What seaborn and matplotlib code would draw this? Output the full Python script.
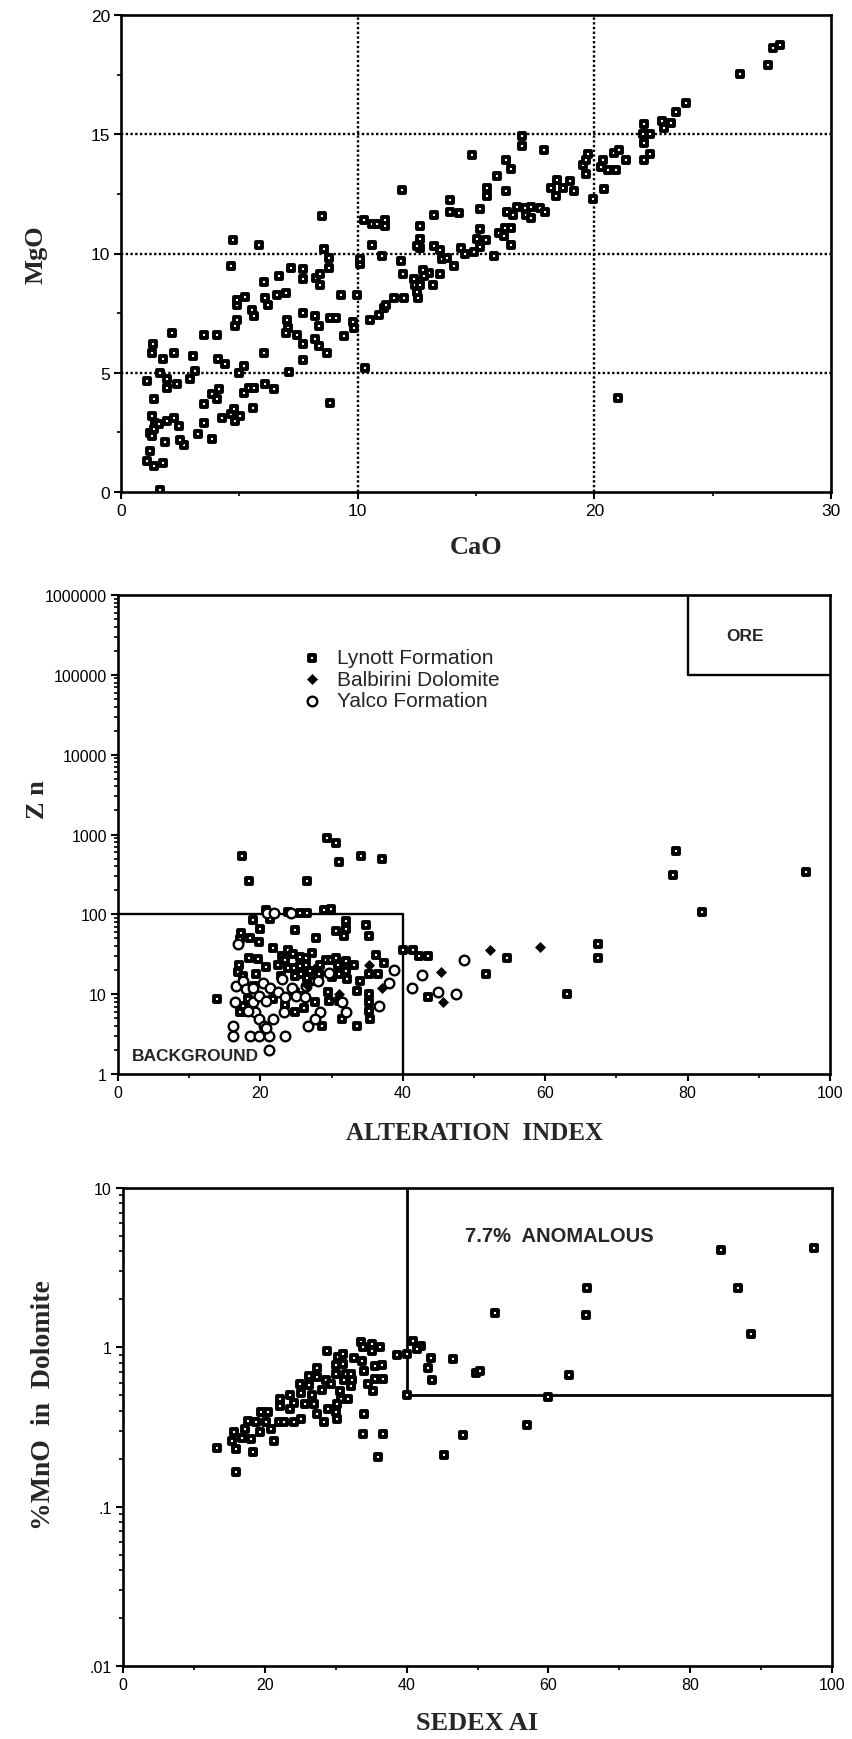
import numpy as np
import pandas as pd
import matplotlib
matplotlib.use("Agg")
import matplotlib.pyplot as plt
import seaborn as sns
from matplotlib.ticker import MultipleLocator, LogLocator, FixedLocator, FixedFormatter, NullFormatter

sns.set_theme(style="ticks")
plt.rcParams["font.family"] = ["Liberation Sans", "DejaVu Sans"]

# ---------------- Panel 1: CaO vs MgO (wt %) ----------------
cao = [1.63, 1.1, 1.24, 1.38, 1.77, 1.87, 2.65, 2.48, 1.24, 1.3, 1.38, 1.45, 1.3, 1.6, 1.94, 2.25, 2.44,
       1.38, 1.1, 1.66, 1.77, 1.3, 1.35, 2.15, 2.23, 1.94, 1.94, 2.37, 2.93, 3.04, 3.14, 3.24, 3.52, 3.52,
       3.86, 3.52, 4.06, 3.85, 4.06, 4.13, 4.08, 4.41, 4.27, 4.65, 4.79, 4.83, 5.04, 4.97, 5.21, 5.21, 5.39,
       5.63, 5.58, 6.1, 6.45, 6.03, 4.65, 4.73, 4.83, 4.9, 4.9, 4.9, 5.23, 5.54, 5.63, 5.82, 6.03, 6.1, 6.21,
       6.59, 6.69, 6.99, 7.18, 7.69, 7.69, 7.01, 7.04, 6.99, 7.44, 7.69, 7.68, 7.69, 7.08, 8.21, 8.35, 8.21,
       8.35, 8.70, 8.85, 8.25, 8.42, 8.42, 8.77, 8.77, 8.56, 8.49, 8.82, 9.1, 9.3, 9.44, 9.8, 9.83, 9.97,
       10.11, 10.11, 10.32, 10.25, 10.6, 10.82, 11.17, 11.17, 10.6, 11.03, 10.54, 10.89, 11.1, 11.21, 11.52,
       11.97, 11.87, 11.83, 11.92, 12.37, 12.44, 12.62, 12.54, 12.51, 12.65, 12.65, 12.65, 12.51, 12.76, 13.0,
       12.82, 13.18, 13.21, 13.46, 13.21, 13.46, 13.56, 13.77, 13.89, 13.89, 14.3, 14.08, 14.35, 14.55, 14.83,
       14.9, 15.15, 15.04, 15.18, 15.15, 15.44, 15.46, 15.46, 15.75, 15.89, 15.96,
       16.28, 16.46, 16.28, 16.94, 16.94, 17.87, 16.33, 16.56, 16.75, 17.08, 17.31, 17.12, 17.34, 17.69,
       17.92, 16.21, 16.49, 16.18, 16.46, 18.18, 18.43, 18.39, 18.67, 18.99, 19.16, 19.51, 19.65, 19.75,
       19.65, 19.93, 20.35, 20.28, 20.56, 20.91, 20.81, 21.05, 21.33, 20.39, 21.01, 22.1, 22.07, 22.36,
       22.1, 22.1, 22.36, 22.88, 22.95, 23.23, 23.44, 23.86, 26.14, 27.32, 27.55, 27.83]
mgo = [0.08, 1.3, 1.72, 1.09, 1.23, 2.1, 1.96, 2.2, 2.49, 2.35, 2.63, 2.9, 3.18, 2.84, 2.97, 3.11, 2.77,
       3.88, 4.65, 5.0, 5.56, 5.84, 6.19, 6.68, 5.84, 4.72, 4.37, 4.51, 4.72, 5.7, 5.07, 2.42, 2.9, 3.67,
       2.23, 6.6, 6.6, 4.09, 3.88, 4.3, 5.56, 5.35, 3.11, 3.25, 3.46, 2.97, 3.18, 5.0, 5.28, 4.16, 4.37,
       4.37, 3.53, 4.51, 4.3, 5.81, 9.47, 10.56, 6.96, 7.23, 7.86, 8.07, 8.17, 7.65, 7.4, 10.34, 8.8, 8.14, 7.86,
       8.24, 9.05, 8.35, 9.4, 9.33, 8.91, 7.21, 6.89, 6.68, 6.6, 6.19, 7.51, 5.53, 5.03, 7.37, 6.98, 6.42,
       6.12, 5.84, 3.72, 8.98, 8.7, 9.12, 9.4, 9.82, 10.17, 11.59, 7.3, 7.3, 8.24, 6.56, 7.12, 6.89, 8.28,
       9.54, 9.75, 5.21, 11.4, 11.22, 11.22, 11.42, 11.15, 10.34, 9.89, 7.23, 7.44, 7.72, 7.86, 8.14,
       8.14, 12.68, 9.68, 9.12, 8.91, 8.7, 8.66, 8.14, 8.38, 11.15, 10.61, 10.24, 10.31, 9.3, 9.19,
       9.05, 8.66, 11.63, 9.16, 10.31, 10.14, 9.75, 9.82, 12.23, 11.73, 11.68, 9.47, 10.24, 9.96, 14.15,
       10.06, 10.28, 10.59, 11.87, 11.03, 10.56, 12.75, 12.4, 9.89, 13.24, 10.87,
       13.9, 13.56, 12.6, 14.93, 14.51, 14.32, 11.76, 11.62, 11.97, 11.9, 11.97, 11.62, 11.48, 11.9,
       11.76, 11.06, 11.08, 10.75, 10.35, 12.75, 13.1, 12.39, 12.75, 13.03, 12.6, 13.73, 13.94, 14.18,
       13.34, 12.3, 13.9, 13.62, 13.52, 13.52, 14.23, 14.32, 13.94, 12.72, 3.94, 15.42, 15.0, 15.0,
       14.65, 13.9, 14.18, 15.56, 15.28, 15.49, 15.92, 16.3, 17.51, 17.89, 18.63, 18.73]

# ---------------- Panel 2: alteration index vs Zn (ppm) ----------------
lynott_ai = [17.45, 18.4, 29.3, 30.6, 31.1, 34.1, 37.1, 26.6, 78.4, 78.0, 82.0, 96.6, 67.4, 67.4, 63.0,
             54.6, 51.7, 43.5,
             13.9, 17.3, 17.2, 18.5, 19.8, 20.0, 19.0, 20.8, 21.4, 21.7, 24.8, 23.9, 25.5, 26.5, 29.0, 29.9,
             27.8, 30.6, 32.0, 32.0, 31.7, 34.8, 35.2, 40.0, 41.4, 42.3, 43.5, 36.3, 37.4, 36.5, 35.2, 34.0,
             33.5, 33.2, 32.0, 32.0, 32.1, 35.2, 35.2, 35.2, 35.4, 33.5, 31.4, 28.7, 29.7, 31.1, 27.6, 26.1,
             24.8, 23.4, 21.8, 17.1, 18.0, 16.8, 17.0, 18.4, 19.7, 20.8, 19.4, 22.5, 23.1, 23.9, 24.6, 23.5,
             23.9, 24.7, 25.5, 26.4, 27.0, 28.1, 28.4, 29.2, 29.9, 30.6, 30.9, 27.3, 25.5, 26.4, 24.8, 25.7,
             26.5, 27.4, 28.3, 30.0, 31.1, 22.9, 29.5, 26.0, 24.8, 17.5, 19.1, 17.5, 18.2]
lynott_zn = [532, 259, 917, 777, 446, 543, 490, 259, 620, 308, 108, 335, 42, 28, 10,
             28, 18, 9.1,
             8.8, 58, 49, 51, 45, 66, 84, 113, 88, 38, 63, 107, 103, 103, 113, 118,
             51, 62, 83, 65, 53, 73, 54, 36, 36, 30, 30, 31, 24.5, 17.8, 17.8, 14.7,
             11, 23, 26, 19.6, 15.4, 10, 8, 6.2, 4.9, 4.0, 4.9, 4.0, 8.2, 8.2, 8, 6.8,
             6.0, 7.3, 8.6, 5.9, 5.9, 19, 23, 28, 27.5, 21.6, 17.8, 23, 30, 36, 32, 27,
             21.5, 21.5, 22.6, 23, 19.6, 20.6, 23, 27, 27, 28, 23, 33, 29, 28, 17, 17.8,
             16, 14.7, 17.8, 16.6, 17.8, 17, 10.5, 9.5, 10.5, 17, 12.7, 7.1, 8.6]

balbirini_ai = [35.2, 37.1, 45.3, 45.6, 31.0, 52.2, 59.2, 26.5]
balbirini_zn = [23, 12, 19, 8, 10, 35.5, 38.5, 13]

yalco_ai = [16.8, 20.9, 21.9, 24.3, 16.1, 16.1, 18.5, 19.8, 21.2, 23.5, 21.2, 16.6, 16.4, 17.5, 18.0,
            19.0, 20.3, 21.3, 18.9, 19.8, 20.8, 19.3, 18.2, 19.8, 20.5, 21.8, 20.8, 23.3, 23.1, 24.5,
            22.5, 23.5, 25.0, 26.3, 26.4, 28.1, 29.7, 28.4, 27.6, 26.7, 31.5, 32.0, 36.6, 38.1, 38.8,
            41.3, 42.7, 44.9, 47.5, 48.6]
yalco_zn = [42, 103, 105, 103, 4.0, 3.0, 3.0, 3.0, 3.0, 3.0, 2.0, 12.7, 8, 14.7, 11.5,
            11.9, 14, 12, 8, 9.5, 8.3, 5.9, 6.2, 4.9, 4.0, 4.9, 3.8, 5.9, 15.4, 12,
            10.5, 9.1, 9.5, 9.3, 12.7, 14.7, 18.6, 5.9, 4.9, 4.0, 8, 5.9, 7.1, 14, 20,
            12, 17.3, 10.7, 10.1, 27]

# ---------------- Panel 3: SEDEX alteration index vs %MnO in dolomite ----------------
sedex_ai = [13.3, 15.97, 18.4, 21.3, 15.4, 15.6, 16.8, 18.0, 17.2, 19.3, 20.9, 17.7, 18.8, 20.2, 19.4,
            20.4, 22.0, 22.7, 24.1, 25.1, 22.2, 23.6, 22.2, 23.6, 25.1, 24.1, 25.7, 26.9, 25.0, 26.3,
            26.2, 27.4, 27.3, 26.6, 28.1, 27.4, 28.3, 28.9, 30.2, 30.1, 28.7, 29.4, 30.0, 30.1, 30.3,
            31.1, 31.0, 31.4, 32.2, 31.2, 32.3, 32.2, 30.6, 30.7, 31.8, 30.2, 28.8, 32.6, 33.7, 33.5,
            33.8, 35.1, 35.1, 36.2, 34.0, 35.5, 36.5, 34.5, 35.5, 36.7, 35.3, 34.0, 33.8, 36.7, 35.9,
            38.7, 40.1, 40.9, 42.0, 41.4, 43.5, 43.0, 43.6, 46.6, 49.8, 50.3, 40.0, 48.0, 45.3, 52.4,
            16.0, 57.0, 60.0, 62.9, 65.3, 65.5, 84.4, 86.8, 88.6, 97.5]
mno = [0.232, 0.23, 0.22, 0.257, 0.26, 0.295, 0.27, 0.265, 0.307, 0.295, 0.307, 0.346, 0.338, 0.34, 0.39,
       0.39, 0.34, 0.34, 0.338, 0.355, 0.43, 0.41, 0.473, 0.50, 0.52, 0.45, 0.44, 0.44, 0.59, 0.58,
       0.66, 0.65, 0.74, 0.50, 0.54, 0.38, 0.34, 0.41, 0.355, 0.39, 0.62, 0.59, 0.68, 0.77, 0.865,
       0.91, 0.79, 0.68, 0.68, 0.62, 0.62, 0.57, 0.53, 0.475, 0.475, 0.44, 0.95, 0.86, 0.82, 1.08,
       1.0, 1.05, 0.95, 1.0, 0.71, 0.76, 0.77, 0.59, 0.63, 0.63, 0.53, 0.38, 0.286, 0.286, 0.204,
       0.90, 0.91, 1.1, 1.02, 0.97, 0.86, 0.74, 0.62, 0.85, 0.69, 0.71, 0.50, 0.28, 0.21, 1.64,
       0.166, 0.325, 0.49, 0.67, 1.6, 2.36, 4.1, 2.36, 1.21, 4.2]

# field boundaries drawn on the discrimination plots
BACKGROUND_AI, BACKGROUND_ZN = 40, 100
ORE_AI, ORE_ZN = 80, 1e5
ANOM_AI, ANOM_MNO = 40, 0.5

df_top = pd.DataFrame({"CaO": cao, "MgO": mgo})
df_mid = pd.concat([
    pd.DataFrame({"AI": lynott_ai, "Zn": lynott_zn, "unit": "Lynott Formation"}),
    pd.DataFrame({"AI": balbirini_ai, "Zn": balbirini_zn, "unit": "Balbirini Dolomite"}),
    pd.DataFrame({"AI": yalco_ai, "Zn": yalco_zn, "unit": "Yalco Formation"}),
], ignore_index=True)
df_bot = pd.DataFrame({"AI": sedex_ai, "MnO": mno})

W, H = 852, 1740
fig = plt.figure(figsize=(W / 100, H / 100), dpi=100)
fig.patch.set_facecolor("white")


def frame(l, t, r, b):
    return [l / W, 1 - b / H, (r - l) / W, (b - t) / H]


ax1 = fig.add_axes(frame(121, 16, 831, 493))
ax2 = fig.add_axes(frame(118, 596, 830, 1075))
ax3 = fig.add_axes(frame(123, 1189, 832, 1667))

SQUARE = dict(marker="s", s=19, color="white", edgecolor="black", linewidth=2.8, zorder=3)
SERIF = dict(fontfamily=["Liberation Serif", "DejaVu Serif"], fontweight="bold")


def style(ax, labelsize=11):
    ax.set_facecolor("white")
    for sp in ax.spines.values():
        sp.set_linewidth(1.9)
        sp.set_color("black")
        sp.set_visible(True)
    ax.tick_params(which="major", direction="out", length=5, width=1.5, colors="black",
                   labelsize=labelsize, pad=3, left=True, bottom=True)
    ax.tick_params(which="minor", direction="out", length=3, width=1.2, colors="black",
                   left=True, bottom=True)
    ax.grid(False)


# ---- panel 1
sns.scatterplot(data=df_top, x="CaO", y="MgO", ax=ax1, legend=False, **SQUARE)
ax1.set_xlim(0, 30)
ax1.set_ylim(0, 20)
ax1.xaxis.set_major_locator(MultipleLocator(10))
ax1.xaxis.set_minor_locator(MultipleLocator(5))
ax1.yaxis.set_major_locator(MultipleLocator(5))
ax1.yaxis.set_minor_locator(MultipleLocator(2.5))
for v in (10, 20):
    ax1.axvline(v, color="black", lw=1.7, ls=(0, (1, 1)), zorder=1)
for v in (5, 10, 15):
    ax1.axhline(v, color="black", lw=1.7, ls=(0, (1, 1)), zorder=1)
style(ax1, 12.5)
ax1.set_xlabel("CaO", fontsize=19, va="center", **SERIF)
ax1.set_ylabel("MgO", fontsize=19, va="center", **SERIF)
ax1.xaxis.set_label_coords(0.5, (493 - 547) / 477)
ax1.yaxis.set_label_coords((36 - 121) / 710, 0.5)

# ---- panel 2
sns.scatterplot(data=df_mid[df_mid.unit == "Lynott Formation"], x="AI", y="Zn", ax=ax2,
                label="Lynott Formation", **SQUARE)
sns.scatterplot(data=df_mid[df_mid.unit == "Balbirini Dolomite"], x="AI", y="Zn", ax=ax2,
                label="Balbirini Dolomite", marker="D", s=26, color="black", edgecolor="black",
                linewidth=0.5, zorder=4)
sns.scatterplot(data=df_mid[df_mid.unit == "Yalco Formation"], x="AI", y="Zn", ax=ax2,
                label="Yalco Formation", marker="o", s=48, color="white", edgecolor="black",
                linewidth=1.7, zorder=3)
ax2.set_yscale("log")
ax2.set_xlim(0, 100)
ax2.set_ylim(1, 1e6)
ax2.xaxis.set_major_locator(MultipleLocator(20))
ax2.xaxis.set_minor_locator(MultipleLocator(10))
zn_ticks = [1, 10, 100, 1000, 10000, 100000, 1000000]
ax2.yaxis.set_major_locator(FixedLocator(zn_ticks))
ax2.yaxis.set_major_formatter(FixedFormatter([str(t) for t in zn_ticks]))
ax2.yaxis.set_minor_locator(LogLocator(base=10, subs=np.arange(2, 10), numticks=20))
ax2.yaxis.set_minor_formatter(NullFormatter())
ax2.plot([0, BACKGROUND_AI, BACKGROUND_AI], [BACKGROUND_ZN, BACKGROUND_ZN, 1], color="black", lw=1.7, zorder=2)
ax2.plot([ORE_AI, ORE_AI, 100], [1e6, ORE_ZN, ORE_ZN], color="black", lw=1.7, zorder=2)
ax2.text(1.9, 1.69, "BACKGROUND", ha="left", va="center", fontsize=12.5, fontweight="bold")
ax2.text(88, 3.1e5, "ORE", ha="center", va="center", fontsize=12.5, fontweight="bold")
style(ax2, 11.5)
ax2.legend(loc="upper left", bbox_to_anchor=((301.6 - 118) / 712, (1075 - 649) / 479),
           frameon=False, fontsize=15, scatterpoints=1, borderpad=0, borderaxespad=0,
           handlelength=1.0, handletextpad=0.7, labelspacing=0.12)
ax2.set_xlabel("ALTERATION  INDEX", fontsize=18, va="center", **SERIF)
ax2.set_ylabel("Z n", fontsize=19, va="center", **SERIF)
ax2.xaxis.set_label_coords(0.5, (1075 - 1134) / 479)
ax2.yaxis.set_label_coords((37 - 118) / 712, (1075 - 800) / 479)

# ---- panel 3
sns.scatterplot(data=df_bot, x="AI", y="MnO", ax=ax3, legend=False, **SQUARE)
ax3.set_yscale("log")
ax3.set_xlim(0, 100)
ax3.set_ylim(0.01, 10)
ax3.xaxis.set_major_locator(MultipleLocator(20))
ax3.xaxis.set_minor_locator(MultipleLocator(10))
mn_ticks = [0.01, 0.1, 1, 10]
ax3.yaxis.set_major_locator(FixedLocator(mn_ticks))
ax3.yaxis.set_major_formatter(FixedFormatter([".01", ".1", "1", "10"]))
ax3.yaxis.set_minor_locator(LogLocator(base=10, subs=np.arange(2, 10), numticks=20))
ax3.yaxis.set_minor_formatter(NullFormatter())
ax3.plot([ANOM_AI, ANOM_AI, 100], [10, ANOM_MNO, ANOM_MNO], color="black", lw=2.0, zorder=2)
ax3.text(48.2, 5.0, "7.7%  ANOMALOUS", ha="left", va="center", fontsize=14.5, fontweight="bold")
style(ax3, 11.5)
ax3.set_xlabel("SEDEX AI", fontsize=19, va="center", **SERIF)
ax3.set_ylabel("%MnO  in  Dolomite", fontsize=20, va="center", **SERIF)
ax3.xaxis.set_label_coords(0.5, (1667 - 1724) / 478)
ax3.yaxis.set_label_coords((44 - 123) / 709, (1667 - 1405) / 478)

fig.savefig("out.png", dpi=100, facecolor="white")
